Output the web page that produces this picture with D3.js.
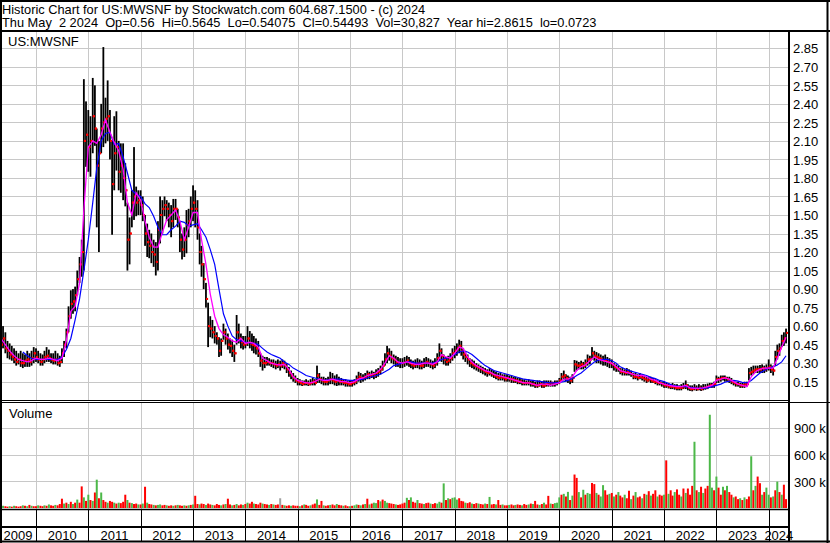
<!DOCTYPE html>
<html>
<head>
<meta charset="utf-8">
<script src="https://cdn.jsdelivr.net/npm/d3@7"></script>
<style>
body { margin: 0; background: #fff; }
svg text { font-family: Arial, "Liberation Sans", sans-serif; font-size: 13px; fill: #000; white-space: pre; }
</style>
</head>
<body>
<svg id="chart" width="830" height="543"></svg>
<script>
/**
 * Historic chart US:MWSNF - half-monthly bars from May 2009
 */

// price bars, one per half month starting 2009-05-01
var hi = [
    .58,.60,.55,.48,.46,.44,.42,.40,.38,.40,.38,.37,.40,.38,.40,.43, // 2009
    .42,.40,.38,.37,.40,.43,.41,.38,.38,.40,.38,.36,.42,.48,.58,.76,.89,.90,.92,1.05,1.16,1.30,2.60,2.42, // 2010
    2.35,2.30,2.61,2.55,2.20,2.10,2.40,2.86,2.45,2.59,2.35,2.10,2.30,2.34,2.10,2.08,2.08,1.92,1.60,1.48,1.70,2.05,1.73,1.70, // 2011
    1.70,1.65,1.50,1.43,1.38,1.35,1.30,1.28,1.45,1.65,1.62,1.65,1.62,1.60,1.58,1.63,1.63,1.55,1.45,1.35,1.40,1.54,1.55,1.65, // 2012
    1.74,1.70,1.62,1.35,1.25,1.11,.95,.79,.68,.65,.60,.55,.51,.50,.62,.58,.54,.50,.49,.45,.69,.62,.54,.52, // 2013
    .52,.60,.56,.54,.52,.50,.48,.38,.36,.35,.35,.34,.33,.33,.32,.33,.32,.33,.32,.30,.27,.24,.22,.20, // 2014
    .18,.17,.16,.16,.17,.16,.17,.18,.17,.28,.22,.19,.19,.18,.19,.23,.22,.20,.21,.19,.18,.17,.17,.16, // 2015
    .16,.16,.17,.20,.23,.22,.21,.22,.24,.23,.24,.23,.25,.26,.28,.32,.38,.44,.42,.40,.37,.36,.35,.34, // 2016
    .34,.35,.36,.35,.33,.32,.33,.34,.33,.32,.34,.35,.34,.33,.32,.34,.38,.46,.42,.37,.35,.36,.38,.42, // 2017
    .44,.46,.49,.48,.42,.40,.37,.34,.33,.32,.30,.29,.28,.27,.26,.25,.26,.25,.24,.23,.22,.22,.21,.21, // 2018
    .21,.20,.20,.19,.19,.18,.18,.17,.17,.16,.17,.16,.16,.15,.16,.16,.15,.16,.16,.16,.16,.15,.16,.16, // 2019
    .18,.22,.24,.21,.20,.19,.21,.325,.32,.31,.32,.31,.33,.37,.36,.43,.40,.39,.38,.37,.36,.37,.35,.34, // 2020
    .33,.30,.29,.28,.26,.26,.25,.26,.25,.24,.22,.22,.21,.22,.21,.20,.19,.19,.19,.18,.17,.16,.16,.15, // 2021
    .15,.14,.14,.13,.14,.13,.13,.12,.13,.14,.16,.13,.12,.12,.13,.12,.13,.12,.13,.13,.135,.14,.14,.15, // 2022
    .20,.19,.20,.20,.20,.19,.19,.18,.16,.15,.15,.14,.14,.15,.15,.26,.27,.28,.28,.28,.285,.29,.28,.29, // 2023
    .33,.29,.28,.40,.45,.46,.53,.55,.58 // 2024
];
var lo = [
    .40,.42,.38,.34,.33,.32,.30,.28,.29,.27,.26,.27,.27,.27,.28,.30,
    .31,.30,.28,.28,.30,.31,.31,.30,.29,.29,.28,.27,.30,.35,.42,.55,.66,.70,.72,.85,.95,1.00,1.05,1.89,
    1.85,1.81,2.00,2.06,1.40,1.20,2.00,2.05,2.08,2.10,1.95,1.34,1.70,1.86,1.70,1.68,1.62,1.57,1.05,1.10,1.40,1.46,1.49,1.50,
    1.50,1.45,1.25,1.16,1.15,1.11,1.08,1.01,1.05,1.27,1.35,1.49,1.45,1.40,1.32,1.40,1.46,1.40,1.20,1.14,1.16,1.19,1.32,1.40,
    1.45,1.40,1.30,1.10,1.00,.90,.75,.43,.51,.50,.46,.45,.35,.36,.49,.45,.41,.38,.35,.31,.45,.46,.42,.41,
    .42,.44,.42,.40,.38,.37,.35,.27,.24,.26,.28,.28,.27,.26,.25,.26,.24,.26,.25,.22,.19,.17,.15,.14,
    .12,.12,.115,.12,.12,.115,.12,.12,.12,.14,.14,.13,.12,.12,.12,.13,.13,.12,.115,.12,.12,.12,.11,.11,
    .11,.11,.12,.13,.15,.14,.15,.16,.17,.17,.18,.17,.18,.19,.21,.24,.28,.30,.32,.30,.29,.27,.27,.26,
    .26,.27,.28,.27,.26,.25,.26,.26,.25,.25,.26,.27,.27,.26,.25,.26,.28,.32,.31,.29,.28,.28,.30,.32,
    .34,.36,.38,.36,.33,.31,.29,.27,.26,.25,.24,.23,.22,.21,.20,.19,.20,.19,.18,.17,.16,.16,.16,.15,
    .15,.15,.14,.14,.14,.13,.13,.12,.12,.12,.12,.11,.11,.10,.10,.11,.10,.10,.11,.11,.11,.11,.11,.12,
    .13,.15,.16,.15,.14,.13,.14,.23,.24,.25,.25,.25,.26,.28,.29,.33,.32,.30,.30,.29,.28,.28,.27,.26,
    .26,.24,.23,.23,.21,.20,.20,.20,.20,.19,.17,.17,.16,.17,.16,.15,.14,.15,.14,.14,.13,.12,.12,.11,
    .10,.10,.095,.09,.09,.085,.08,.08,.08,.09,.09,.08,.075,.072,.08,.075,.08,.075,.08,.085,.09,.10,.10,.10,
    .14,.14,.15,.16,.15,.15,.14,.13,.12,.11,.11,.10,.10,.10,.11,.16,.20,.21,.22,.22,.22,.22,.22,.23,
    .24,.22,.20,.28,.33,.36,.43,.44,.46
];
var cl = [
    .45,.50,.42,.40,.37,.35,.33,.31,.33,.30,.30,.32,.33,.31,.34,.38,
    .35,.33,.31,.33,.35,.36,.34,.33,.32,.33,.30,.31,.38,.45,.55,.68,.78,.80,.85,.98,1.10,1.20,2.10,2.15,
    2.05,2.10,2.30,2.20,1.90,2.00,2.20,2.25,2.28,2.30,2.10,1.75,2.00,2.05,1.85,1.90,1.80,1.70,1.30,1.35,1.60,1.65,1.60,1.62,
    1.58,1.50,1.35,1.28,1.25,1.20,1.18,1.12,1.38,1.50,1.55,1.58,1.55,1.50,1.45,1.55,1.55,1.48,1.30,1.22,1.30,1.42,1.45,1.55,
    1.60,1.55,1.40,1.20,1.10,.98,.82,.60,.58,.55,.52,.50,.40,.48,.55,.50,.45,.44,.40,.38,.55,.50,.47,.45,
    .46,.50,.46,.45,.44,.42,.38,.32,.30,.30,.31,.30,.30,.29,.28,.29,.28,.30,.28,.25,.22,.20,.18,.16,
    .15,.14,.13,.14,.14,.13,.14,.15,.14,.20,.17,.16,.15,.15,.16,.17,.16,.15,.16,.15,.15,.14,.14,.13,
    .13,.14,.15,.17,.19,.18,.18,.19,.21,.20,.21,.20,.22,.23,.25,.28,.33,.38,.36,.34,.33,.31,.30,.30,
    .30,.31,.32,.30,.29,.28,.29,.30,.28,.28,.30,.31,.30,.29,.28,.30,.34,.40,.36,.33,.31,.32,.34,.38,
    .40,.42,.44,.40,.37,.35,.33,.30,.29,.28,.27,.26,.25,.24,.23,.22,.22,.21,.20,.19,.18,.19,.18,.17,
    .18,.17,.17,.16,.16,.15,.15,.14,.14,.14,.14,.13,.13,.12,.12,.13,.12,.12,.13,.13,.14,.13,.14,.14,
    .16,.19,.20,.18,.17,.16,.18,.29,.28,.28,.29,.28,.30,.33,.33,.38,.36,.35,.34,.33,.32,.32,.31,.30,
    .29,.27,.26,.25,.23,.23,.22,.23,.22,.21,.19,.19,.18,.19,.18,.17,.16,.17,.16,.15,.15,.14,.14,.13,
    .12,.12,.11,.11,.11,.10,.10,.10,.10,.11,.12,.10,.09,.09,.10,.09,.10,.09,.10,.10,.11,.12,.12,.13,
    .17,.17,.18,.18,.18,.17,.16,.15,.14,.13,.13,.12,.12,.13,.13,.22,.23,.24,.25,.25,.25,.26,.25,.26,
    .27,.25,.24,.35,.40,.42,.48,.50,.545
];

// volume (thousands) per half month, and day direction u/d/n
var vol = [
    30,25,20,15,20,15,25,20,15,20,30,25,20,35,25,20,
    20,30,25,20,30,25,40,30,25,35,30,45,105,50,60,45,70,45,60,95,60,244,120,80,
    150,90,80,175,320,110,175,90,70,60,80,70,60,50,60,55,70,150,90,60,55,45,50,40,
    40,50,240,60,45,40,35,30,35,40,30,35,30,25,30,25,30,35,30,25,30,25,30,35,
    40,138,45,40,50,45,35,50,40,35,30,45,35,30,40,45,105,40,30,35,45,30,40,35,
    45,60,50,70,50,45,40,60,50,45,40,35,45,40,35,40,110,35,30,25,30,25,30,25,
    25,20,30,40,35,25,30,40,50,97,35,80,30,25,30,35,40,30,45,35,30,25,30,20,
    20,25,30,40,35,30,40,45,105,40,50,60,55,90,75,95,80,60,55,50,45,40,35,40,
    50,60,115,90,120,70,60,90,55,50,45,55,60,50,45,55,50,70,60,278,90,110,100,115,
    120,95,110,80,75,60,55,65,50,45,55,50,45,40,50,45,125,40,45,40,90,35,40,30,
    30,35,40,30,35,40,35,30,45,35,40,50,45,80,40,35,45,60,40,137,50,45,55,60,
    120,150,160,130,182,90,140,378,340,180,120,206,150,170,160,283,270,170,150,130,258,200,150,160,
    170,130,150,180,140,120,150,110,195,100,140,180,120,130,110,160,150,190,140,160,200,130,150,140,
    150,538,160,200,140,180,210,150,130,220,170,220,150,250,748,200,180,240,170,220,250,1053,230,200,
    355,230,150,240,200,250,180,150,120,130,100,110,90,120,100,130,584,200,250,355,280,150,180,230,
    150,120,130,200,298,180,150,263,100
];
var volDir = [
    'dudd udud ddud udud',
    'dudd udud dudd dudu dudu ddud',
    'udud udud dudd udud ddud uddu',
    'dudu ddud uudd uddu dudd udud',
    'uddu ddud dudd dudu ddud uddu',
    'dudd uddd uddu dudd ndud dudd',
    'dudu ddud dudd uddu ddud dudd',
    'uduu dudu dudu udud uudd dudd',
    'ddud uddu ddud dudd uudu dudu',
    'uudd dudd uddu ddud uddu ddud',
    'dudd uddu ddud uddu dudd uduu',
    'udud udud dudu duud dudu uddu',
    'dudu ddud dudu ddud udud dudd',
    'udud dudd udud ddud udud duud',
    'uddu dudd uddu dudd udud dudu',
    'udud udud d'
].join('').replace(/ /g, '');

// moving averages, one value per month starting 2009-05
var maFast = [
    .50,.45,.40,.36,.33,.32,.31,.32,
    .34,.33,.33,.34,.33,.32,.34,.48,.72,.76,.95,1.54,
    2.05,2.10,2.08,2.15,2.27,2.17,2.09,2.02,1.87,1.60,1.50,1.68,
    1.62,1.45,1.32,1.24,1.24,1.36,1.46,1.50,1.54,1.45,1.30,1.40,
    1.52,1.52,1.30,1.10,.86,.68,.58,.53,.51,.48,.47,.50,
    .46,.47,.46,.43,.34,.32,.30,.29,.285,.29,.25,.19,
    .16,.15,.14,.14,.15,.17,.16,.16,.17,.16,.15,.15,
    .14,.15,.17,.18,.20,.21,.22,.25,.30,.36,.34,.31,
    .30,.31,.30,.29,.29,.30,.30,.29,.31,.37,.35,.34,
    .38,.43,.42,.35,.31,.28,.26,.24,.23,.21,.20,.19,
    .18,.17,.16,.15,.14,.14,.13,.12,.13,.13,.12,.13,
    .14,.17,.17,.19,.24,.27,.285,.32,.35,.33,.32,.31,
    .30,.27,.24,.23,.22,.21,.20,.20,.19,.17,.16,.14,
    .13,.12,.115,.11,.11,.12,.10,.095,.095,.10,.11,.12,
    .16,.17,.18,.17,.15,.13,.12,.11,.19,.23,.25,.26,
    .26,.26,.34,.43,.51
];
var maSlow = [
    null,null,null,null,null,.39,.36,.34,
    .33,.33,.33,.33,.33,.33,.35,.41,.50,.65,.82,1.05,
    1.30,1.60,1.88,2.10,2.16,2.17,2.07,2.08,1.97,1.84,1.70,1.67,
    1.65,1.59,1.56,1.49,1.40,1.34,1.34,1.38,1.41,1.45,1.44,1.41,
    1.42,1.43,1.38,1.32,1.22,1.10,.90,.70,.60,.52,.49,.48,
    .47,.465,.46,.45,.42,.39,.37,.355,.34,.31,.29,.26,
    .24,.22,.20,.19,.18,.17,.16,.165,.17,.17,.17,.165,
    .16,.16,.165,.17,.18,.19,.20,.21,.23,.25,.28,.29,
    .30,.31,.31,.30,.30,.30,.30,.30,.31,.33,.34,.35,
    .37,.39,.40,.39,.37,.34,.31,.28,.26,.24,.23,.22,
    .21,.20,.19,.18,.17,.165,.16,.155,.15,.145,.14,.14,
    .145,.15,.16,.175,.20,.22,.25,.28,.31,.325,.33,.33,
    .32,.30,.27,.255,.24,.23,.22,.21,.20,.185,.175,.16,
    .15,.135,.12,.115,.11,.11,.105,.10,.097,.095,.10,.11,
    .12,.13,.145,.155,.16,.155,.145,.14,.16,.19,.22,.24,
    .26,.27,.285,.31,.36
];

var priceTicks = d3.range(1, 20).map(function(k) { return +(k * 0.15).toFixed(2); });
var volTicks = [300, 600, 900];
var years = d3.range(2009, 2025);

var headerLine1 = 'Historic Chart for US:MWSNF by Stockwatch.com 604.687.1500 - (c) 2024';
var headerLine2 = 'Thu May  2 2024  Op=0.56  Hi=0.5645  Lo=0.54075  Cl=0.54493  Vol=30,827  Year hi=2.8615  lo=0.0723';

function barDate(i) {
    return new Date(2009, 4 + Math.floor(i / 2), i % 2 ? 16 : 1);
}
function monthDate(m) {
    return new Date(2009, 4 + m, 1);
}

var plotRight = 789;
var svg = d3.select('#chart');

var x = d3.scaleTime()
    .domain([new Date(2010, 0, 1), new Date(2024, 0, 1)])
    .range([36, 768.7]);
var y = d3.scaleLinear().domain([0, 2.85]).range([400.2, 48.3]);
var yv = d3.scaleLinear().domain([0, 900]).range([508, 428.3]);

svg.append('rect').attr('width', 830).attr('height', 543).attr('fill', '#fff');

// grid
var grid = svg.append('g').attr('stroke', '#c8c8c8').attr('stroke-width', 1);
grid.selectAll('.hp').data(priceTicks).enter().append('line')
    .attr('x1', 0).attr('x2', plotRight)
    .attr('y1', function(d) { return Math.round(y(d)) + 0.5; })
    .attr('y2', function(d) { return Math.round(y(d)) + 0.5; });
grid.selectAll('.hv').data(volTicks).enter().append('line')
    .attr('x1', 0).attr('x2', plotRight)
    .attr('y1', function(d) { return Math.round(yv(d)) + 0.5; })
    .attr('y2', function(d) { return Math.round(yv(d)) + 0.5; });
var yearBounds = years.slice(1).map(function(yr) { return new Date(yr, 0, 1); });
grid.selectAll('.vp').data(yearBounds).enter().append('line')
    .attr('x1', function(d) { return Math.round(x(d)) + 0.5; })
    .attr('x2', function(d) { return Math.round(x(d)) + 0.5; })
    .attr('y1', 32).attr('y2', 400);
grid.selectAll('.vv').data(yearBounds).enter().append('line')
    .attr('x1', function(d) { return Math.round(x(d)) + 0.5; })
    .attr('x2', function(d) { return Math.round(x(d)) + 0.5; })
    .attr('y1', 403).attr('y2', 509);

// price bars
var idx = d3.range(hi.length);
svg.append('g').selectAll('rect').data(idx).enter().append('rect')
    .attr('x', function(i) { return x(barDate(i)) - 0.9; })
    .attr('width', 1.8)
    .attr('y', function(i) { return y(hi[i]); })
    .attr('height', function(i) { return Math.max(1, y(lo[i]) - y(hi[i])); })
    .attr('fill', '#000');
// open tick (previous close) on the left, close tick on the right
svg.append('g').selectAll('rect').data(idx.slice(1)).enter().append('rect')
    .attr('x', function(i) { return x(barDate(i)) - 2; })
    .attr('width', 2)
    .attr('y', function(i) { return y(cl[i - 1]) - 1; })
    .attr('height', 2)
    .attr('fill', '#ff0000');
svg.append('g').selectAll('rect').data(idx).enter().append('rect')
    .attr('x', function(i) { return x(barDate(i)); })
    .attr('width', 2)
    .attr('y', function(i) { return y(cl[i]) - 1; })
    .attr('height', 2)
    .attr('fill', '#ff0000');

// moving averages
var maLine = d3.line()
    .defined(function(d) { return d != null; })
    .x(function(d, m) { return x(monthDate(m)); })
    .y(function(d) { return y(d); });
svg.append('path').datum(maSlow).attr('d', maLine)
    .attr('fill', 'none').attr('stroke', '#0000ff').attr('stroke-width', 1.2);
svg.append('path').datum(maFast).attr('d', maLine)
    .attr('fill', 'none').attr('stroke', '#ff00ff').attr('stroke-width', 1.3);

// volume bars
var volColor = { u: '#4cb848', d: '#ff0000', n: '#a0a0a0' };
svg.append('g').selectAll('rect').data(idx).enter().append('rect')
    .attr('x', function(i) { return x(barDate(i)) - 1; })
    .attr('width', 2)
    .attr('y', function(i) { return yv(vol[i]); })
    .attr('height', function(i) { return yv(0) - yv(vol[i]); })
    .attr('fill', function(i) { return volColor[volDir[i]]; });

// axes on the right
var pAxis = svg.append('g')
    .attr('transform', 'translate(' + plotRight + ',0)')
    .call(d3.axisRight(y).tickValues(priceTicks).tickFormat(d3.format('.2f')).tickSize(0).tickPadding(4));
var vAxis = svg.append('g')
    .attr('transform', 'translate(' + plotRight + ',0)')
    .call(d3.axisRight(yv).tickValues(volTicks).tickFormat(function(d) { return d + ' k'; }).tickSize(0).tickPadding(5));
[pAxis, vAxis].forEach(function(a) {
    a.select('.domain').remove();
    a.attr('font-size', null).attr('font-family', null);
    a.selectAll('text').attr('fill', '#000').attr('dy', '0.36em');
});

// frame lines
var frame = svg.append('g').attr('stroke', '#000').attr('fill', 'none');
function hline(y0, x0, x1, w) {
    frame.append('line').attr('x1', x0).attr('x2', x1).attr('y1', y0).attr('y2', y0).attr('stroke-width', w);
}
function vline(x0, y0, y1, w) {
    frame.append('line').attr('x1', x0).attr('x2', x0).attr('y1', y0).attr('y2', y1).attr('stroke-width', w);
}
hline(1, 0, 830, 2);
hline(31, 0, 830, 2);
hline(400.5, 0, plotRight, 1);
hline(402.5, 0, 830, 1);
hline(509.5, 0, plotRight, 1.5);
hline(527, 0, plotRight, 2);
hline(541.5, 0, 830, 2);
vline(1, 0, 543, 2);
vline(plotRight, 31, 542, 2);
vline(827.5, 0, 543, 2);
yearBounds.forEach(function(d) {
    vline(Math.round(x(d)) + 0.5, 510, 541, 1);
});

// year labels
svg.append('g').selectAll('text').data(years).enter().append('text')
    .attr('text-anchor', 'middle')
    .attr('x', function(yr) {
        var a = Math.max(0, x(new Date(yr, 0, 1)));
        var b = Math.min(plotRight, x(new Date(yr + 1, 0, 1)));
        return (a + b) / 2;
    })
    .attr('y', 539.5)
    .text(function(yr) { return yr; });

// titles
svg.append('text').attr('x', 2).attr('y', 13.5).style('font-size', '12.8px').text(headerLine1);
svg.append('text').attr('x', 2).attr('y', 27).style('font-size', '12.8px').text(headerLine2);
svg.append('text').attr('x', 8).attr('y', 45.5).text('US:MWSNF');
svg.append('text').attr('x', 9).attr('y', 417.5).text('Volume');
</script>
</body>
</html>
